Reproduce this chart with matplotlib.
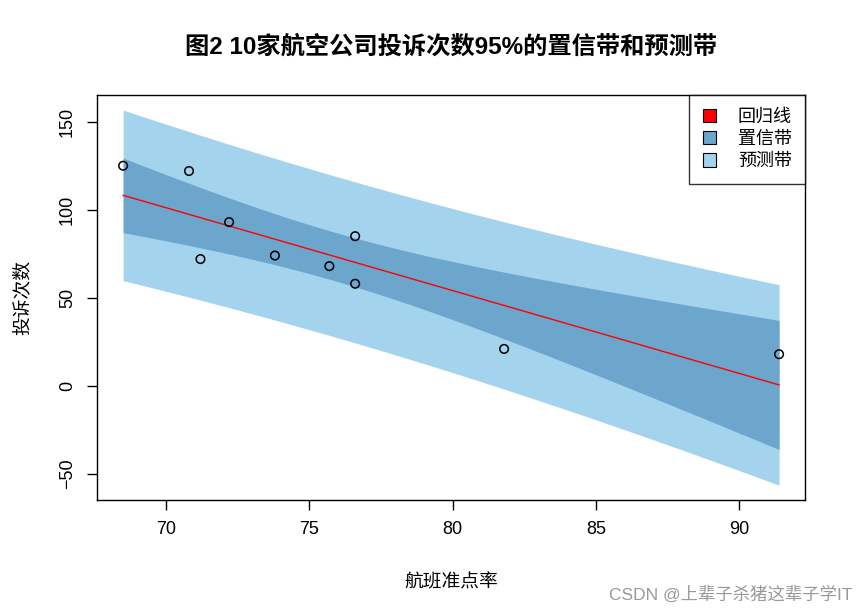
import numpy as np
import matplotlib.pyplot as plt
from matplotlib.patches import Patch

plt.rcParams['font.family'] = ['Liberation Sans', 'Noto Sans CJK SC', 'DejaVu Sans']

# 10 airlines: on-time rate (%) and number of complaints
on_time = [81.8, 76.6, 76.6, 75.7, 73.8, 72.2, 71.2, 70.8, 91.4, 68.5]
complaints = [21, 58, 85, 68, 74, 93, 72, 122, 18, 125]
t_crit = 2.306  # t(0.975, df=8)

x = np.array(on_time)
y = np.array(complaints)
n = len(x)

# least squares fit and bands
slope, intercept = np.polyfit(x, y, 1)
resid = y - (intercept + slope * x)
s = np.sqrt(np.sum(resid ** 2) / (n - 2))
sxx = np.sum((x - x.mean()) ** 2)

xs = np.linspace(x.min(), x.max(), 200)
fit = intercept + slope * xs
se_conf = s * np.sqrt(1 / n + (xs - x.mean()) ** 2 / sxx)
se_pred = s * np.sqrt(1 + 1 / n + (xs - x.mean()) ** 2 / sxx)

col_conf = '#6CA6CD'
col_pred = '#A4D3EE'

fig = plt.figure(figsize=(8.65, 6.13), dpi=100)
ax = fig.add_axes([0.112, 0.184, 0.819, 0.661])

ax.fill_between(xs, fit - t_crit * se_pred, fit + t_crit * se_pred, color=col_pred, lw=0)
ax.fill_between(xs, fit - t_crit * se_conf, fit + t_crit * se_conf, color=col_conf, lw=0)
ax.plot(xs, fit, color='red', lw=1)
ax.scatter(x, y, s=38, facecolors='none', edgecolors='black', linewidths=1.1, zorder=3)

lo = (fit - t_crit * se_pred).min()
hi = (fit + t_crit * se_pred).max()
pad_y = 0.04 * (hi - lo)
pad_x = 0.04 * (x.max() - x.min())
ax.set_xlim(x.min() - pad_x, x.max() + pad_x)
ax.set_ylim(lo - pad_y, hi + pad_y)

ax.set_xticks([70, 75, 80, 85, 90])
ax.set_yticks([-50, 0, 50, 100, 150])
ax.tick_params(axis='both', labelsize=13, length=7, width=1, pad=8)
plt.setp(ax.get_yticklabels(), rotation=90, va='center')
for sp in ax.spines.values():
    sp.set_linewidth(1)

ax.set_xlabel('航班准点率', fontsize=13.5, labelpad=26)
ax.set_ylabel('投诉次数', fontsize=13.5, labelpad=20)
fig.text(0.522, 0.923, '图2 10家航空公司投诉次数95%的置信带和预测带',
         fontsize=17.5, fontweight='bold', ha='center', va='center')

handles = [Patch(facecolor='red', edgecolor='black', lw=0.8),
           Patch(facecolor=col_conf, edgecolor='black', lw=0.8),
           Patch(facecolor=col_pred, edgecolor='black', lw=0.8)]
leg = ax.legend(handles, ['回归线', '置信带', '预测带'], loc='upper right',
                fontsize=13, frameon=True, fancybox=False, borderaxespad=0,
                handlelength=0.75, handleheight=0.75, labelspacing=0.3,
                handletextpad=1.2, borderpad=0.75)
leg.get_frame().set_edgecolor('black')
leg.get_frame().set_linewidth(1)

fig.text(0.985, 0.03, 'CSDN @上辈子杀猪这辈子学IT', fontsize=12.5,
         color='#999999', ha='right', va='center')

fig.savefig('out.png', dpi=100)
